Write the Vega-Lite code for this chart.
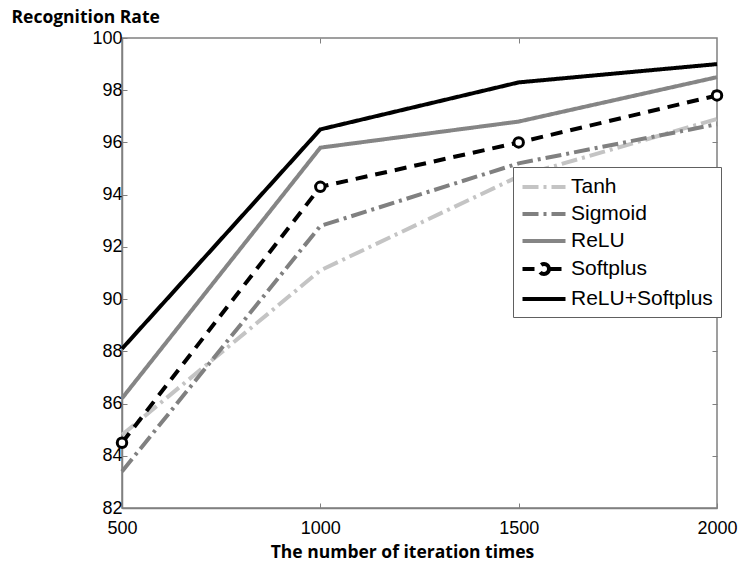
{
  "$schema": "https://vega.github.io/schema/vega-lite/v6.json",
  "width": 595,
  "height": 470,
  "autosize": "none",
  "padding": {"left": 122, "top": 38, "right": 22, "bottom": 53},
  "background": "white",
  "config": {
    "view": {"stroke": "#808080", "strokeWidth": 1.5},
    "axis": {
      "grid": false,
      "domainColor": "#808080",
      "domainWidth": 1.5,
      "tickColor": "#808080",
      "tickSize": -5,
      "tickWidth": 1,
      "labelFont": "Liberation Sans",
      "labelFontSize": 18,
      "labelColor": "black",
      "labelFlush": false,
      "titleFont": "Open Sans",
      "titleFontSize": 17.5,
      "titleFontWeight": "bold",
      "titleColor": "black"
    }
  },
  "data": {
    "values": [
      {"series": "Tanh", "iter": 500, "rate": 84.8},
      {"series": "Tanh", "iter": 1000, "rate": 91.1},
      {"series": "Tanh", "iter": 1500, "rate": 94.7},
      {"series": "Tanh", "iter": 2000, "rate": 96.9},
      {"series": "Sigmoid", "iter": 500, "rate": 83.4},
      {"series": "Sigmoid", "iter": 1000, "rate": 92.8},
      {"series": "Sigmoid", "iter": 1500, "rate": 95.2},
      {"series": "Sigmoid", "iter": 2000, "rate": 96.7},
      {"series": "ReLU", "iter": 500, "rate": 86.2},
      {"series": "ReLU", "iter": 1000, "rate": 95.8},
      {"series": "ReLU", "iter": 1500, "rate": 96.8},
      {"series": "ReLU", "iter": 2000, "rate": 98.5},
      {"series": "Softplus", "iter": 500, "rate": 84.5},
      {"series": "Softplus", "iter": 1000, "rate": 94.3},
      {"series": "Softplus", "iter": 1500, "rate": 96.0},
      {"series": "Softplus", "iter": 2000, "rate": 97.8},
      {"series": "ReLU+Softplus", "iter": 500, "rate": 88.1},
      {"series": "ReLU+Softplus", "iter": 1000, "rate": 96.5},
      {"series": "ReLU+Softplus", "iter": 1500, "rate": 98.3},
      {"series": "ReLU+Softplus", "iter": 2000, "rate": 99.0}
    ]
  },
  "resolve": {"axis": {"x": "independent", "y": "independent"}},
  "layer": [
    {
      "mark": {"type": "line", "strokeWidth": 4, "strokeCap": "butt", "strokeJoin": "miter"},
      "encoding": {
        "x": {
          "field": "iter", "type": "quantitative",
          "scale": {"domain": [500, 2000], "nice": false, "zero": false},
          "axis": {
            "values": [500, 1000, 1500, 2000],
            "format": "d",
            "title": "The number of iteration times",
            "labelPadding": 16,
            "titleX": 280, "titleY": 44, "titleAlign": "center", "titleBaseline": "middle"
          }
        },
        "y": {
          "field": "rate", "type": "quantitative",
          "scale": {"domain": [82, 100], "nice": false, "zero": false},
          "axis": {
            "values": [82, 84, 86, 88, 90, 92, 94, 96, 98, 100],
            "format": "d",
            "title": "Recognition Rate",
            "labelPadding": 5,
            "titleAngle": 0, "titleAlign": "left", "titleBaseline": "middle",
            "titleX": -111, "titleY": -21
          }
        },
        "color": {
          "field": "series", "type": "nominal",
          "scale": {
            "domain": ["Tanh", "Sigmoid", "ReLU", "Softplus", "ReLU+Softplus"],
            "range": ["#c4c4c4", "#808080", "#858585", "#000000", "#000000"]
          },
          "legend": {
            "title": null, "orient": "none", "legendX": 391, "legendY": 129,
            "symbolType": "stroke", "symbolSize": 400, "symbolStrokeWidth": 4,
            "fillColor": "white", "strokeColor": "#606060", "padding": 8,
            "labelFont": "Liberation Sans", "labelFontSize": 21, "labelColor": "black",
            "labelOffset": 26, "rowPadding": 5,
            "encode": {
              "symbols": {
                "update": {
                  "shape": {"signal": "datum.value === 'Softplus' ? 'M-1.05,0L0.55,0M1.65,0L3.25,0M1.6,0C1.6,0.276,1.376,0.5,1.1,0.5C0.824,0.5,0.6,0.276,0.6,0C0.6,-0.276,0.824,-0.5,1.1,-0.5C1.376,-0.5,1.6,-0.276,1.6,0Z' : 'M-1.05,0L3.25,0'"},
                  "fill": {"signal": "datum.value === 'Softplus' ? 'white' : 'transparent'"},
                  "strokeDash": {"signal": "datum.value === 'Softplus' || datum.value === 'ReLU' || datum.value === 'ReLU+Softplus' ? [1,0] : [14,5,3,5]"}
                }
              }
            }
          }
        },
        "strokeDash": {
          "field": "series", "type": "nominal",
          "scale": {
            "domain": ["Tanh", "Sigmoid", "ReLU", "Softplus", "ReLU+Softplus"],
            "range": [[16, 5, 3, 5], [16, 5, 3, 5], [1, 0], [12, 8], [1, 0]]
          },
          "legend": null
        }
      }
    },
    {
      "transform": [{"filter": "datum.series === 'Softplus'"}],
      "mark": {"type": "point", "shape": "circle", "filled": true, "fill": "white", "stroke": "black", "strokeWidth": 3, "size": 90, "opacity": 1},
      "encoding": {
        "x": {"field": "iter", "type": "quantitative", "axis": {"orient": "top", "labels": false, "domain": false, "title": null, "values": [1000, 1500]}},
        "y": {"field": "rate", "type": "quantitative", "axis": {"orient": "right", "labels": false, "domain": false, "title": null, "values": [84, 86, 88, 90, 92, 94, 96, 98]}}
      }
    }
  ]
}
